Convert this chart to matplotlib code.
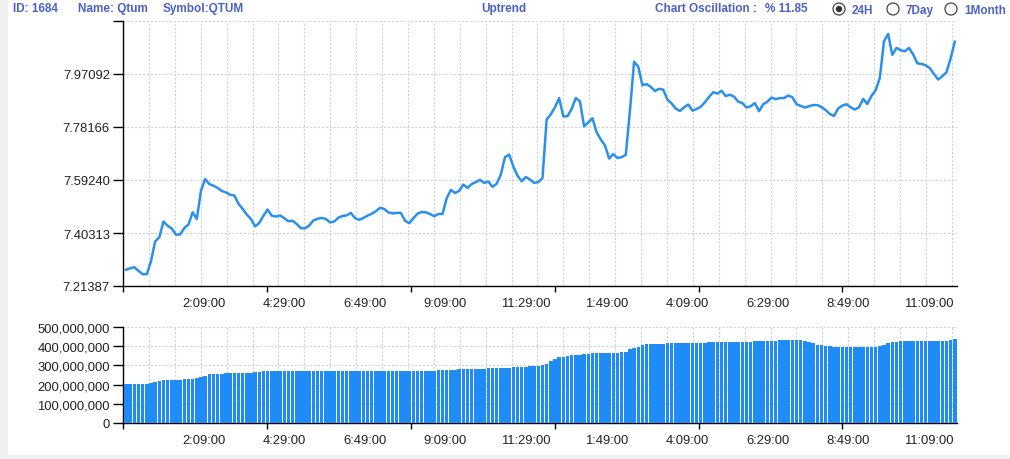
import numpy as np
import matplotlib
matplotlib.use('Agg')
import matplotlib.pyplot as plt
from matplotlib.patches import Circle, Rectangle

### DATA ###
price = [
    7.272, 7.277, 7.281, 7.268, 7.256, 7.256, 7.302, 7.373, 7.388, 7.444,
    7.429, 7.419, 7.397, 7.398, 7.421, 7.433, 7.477, 7.453, 7.554, 7.596,
    7.578, 7.572, 7.564, 7.553, 7.548, 7.540, 7.537, 7.508, 7.489, 7.469,
    7.453, 7.427, 7.439, 7.465, 7.487, 7.465, 7.462, 7.466, 7.456, 7.445,
    7.447, 7.435, 7.420, 7.420, 7.430, 7.448, 7.454, 7.457, 7.453, 7.441,
    7.444, 7.458, 7.464, 7.466, 7.475, 7.456, 7.450, 7.457, 7.465, 7.472,
    7.481, 7.493, 7.489, 7.477, 7.473, 7.475, 7.475, 7.447, 7.438, 7.456,
    7.472, 7.478, 7.477, 7.471, 7.463, 7.471, 7.471, 7.527, 7.557, 7.546,
    7.554, 7.576, 7.564, 7.578, 7.585, 7.593, 7.582, 7.587, 7.568, 7.579,
    7.612, 7.674, 7.683, 7.641, 7.608, 7.588, 7.603, 7.594, 7.582, 7.585,
    7.599, 7.808, 7.827, 7.852, 7.885, 7.820, 7.820, 7.846, 7.885, 7.873,
    7.784, 7.798, 7.813, 7.763, 7.737, 7.716, 7.669, 7.685, 7.671, 7.674,
    7.682, 7.840, 8.015, 7.997, 7.931, 7.935, 7.925, 7.910, 7.918, 7.915,
    7.879, 7.866, 7.847, 7.839, 7.852, 7.862, 7.840, 7.846, 7.854, 7.870,
    7.889, 7.906, 7.901, 7.911, 7.892, 7.897, 7.890, 7.872, 7.867, 7.851,
    7.856, 7.867, 7.838, 7.863, 7.872, 7.887, 7.881, 7.885, 7.885, 7.894,
    7.888, 7.863, 7.857, 7.851, 7.856, 7.860, 7.860, 7.853, 7.842, 7.828,
    7.821, 7.848, 7.858, 7.863, 7.852, 7.844, 7.852, 7.882, 7.864, 7.893,
    7.913, 7.957, 8.088, 8.114, 8.039, 8.064, 8.056, 8.052, 8.064, 8.041,
    8.009, 8.007, 8.002, 7.992, 7.971, 7.951, 7.963, 7.977, 8.026, 8.086,
]

# volume in millions
volume = [
    205, 205, 205, 205, 205, 205, 208, 212, 218, 222,
    224, 224, 225, 226, 229, 229, 230, 232, 238, 247,
    255, 255, 256, 256, 260, 260, 260, 261, 261, 261,
    263, 265, 266, 270, 271, 271, 271, 271, 271, 271,
    271, 271, 271, 271, 271, 271, 271, 271, 271, 271,
    271, 271, 271, 271, 271, 271, 271, 271, 271, 271,
    271, 271, 271, 271, 271, 271, 271, 271, 271, 271,
    271, 271, 271, 272, 273, 274, 275, 276, 277, 278,
    279, 280, 280, 281, 282, 282, 283, 284, 285, 285,
    286, 287, 289, 291, 291, 292, 293, 295, 296, 297,
    300, 305, 325, 335, 342, 346, 350, 353, 355, 356,
    358, 360, 362, 362, 363, 364, 365, 366, 367, 368,
    370, 385, 392, 398, 408, 410, 412, 413, 414, 414,
    415, 415, 416, 416, 416, 416, 417, 417, 418, 419,
    420, 420, 421, 421, 421, 421, 422, 422, 423, 423,
    424, 425, 426, 427, 427, 428, 429, 430, 431, 432,
    432, 432, 431, 428, 423, 415, 408, 404, 401, 399,
    397, 396, 396, 396, 396, 396, 396, 396, 396, 397,
    398, 400, 408, 418, 420, 422, 426, 427, 427, 427,
    427, 427, 427, 427, 427, 427, 427, 428, 430, 437,
]

price_ticks = [7.21387, 7.40313, 7.59240, 7.78166, 7.97092, 8.16018]
price_labels = ['7.21387', '7.40313', '7.59240', '7.78166', '7.97092', '']
volume_ticks = [0, 100, 200, 300, 400, 500]
volume_labels = ['0', '100,000,000', '200,000,000', '300,000,000', '400,000,000', '500,000,000']
time_labels = ['2:09:00', '4:29:00', '6:49:00', '9:09:00', '11:29:00',
               '1:49:00', '4:09:00', '6:29:00', '8:49:00', '11:09:00']

### SETUP ###
W, H = 1010, 460
FONT = 'Liberation Sans'
BLUE = '#2b90ec'
HEAD = '#4a62c4'
GRID = '#d2d2d2'
plt.rcParams['font.family'] = FONT

fig = plt.figure(figsize=(W / 100, H / 100), dpi=100, facecolor='#f0f0f0')
fig.add_artist(Rectangle((8 / W, 1 - 456 / H), (W - 8) / W, 456 / H, zorder=-5,
                         transform=fig.transFigure, fc='white', ec='none'))


def make_axes(top, bottom):
    return fig.add_axes([123 / W, 1 - bottom / H, 834 / W, (bottom - top) / H], facecolor='none')


def style_axes(ax):
    # minutes since the left edge, the chart spans just over a day
    ax.set_xlim(0, 1449)
    for s in ['top', 'right']:
        ax.spines[s].set_visible(False)
    for s in ['left', 'bottom']:
        ax.spines[s].set_linewidth(1.0)
    for m in np.arange(45, 1449, 45):
        ax.axvline(m, color=GRID, lw=0.8, ls=(0, (2, 1.5)), zorder=0)
    ax.set_xticks(np.arange(140, 1449, 140))
    ax.set_xticklabels(time_labels)
    ax.set_xticks(np.arange(0, 1449, 250), minor=True)
    ax.tick_params(axis='x', which='major', length=0, pad=8, labelsize=9.4, labelcolor='#222222')
    ax.tick_params(axis='x', which='minor', length=4, width=1)
    ax.tick_params(axis='y', length=7.5, width=1, pad=2, labelsize=9.4, labelcolor='#222222')
    ax.grid(axis='y', color=GRID, lw=0.8, ls=(0, (2, 1.5)), zorder=0)
    ax.set_axisbelow(True)


times = 5.2 + 7.236 * np.arange(len(price))

### PRICE ###
ax1 = make_axes(22, 287)
style_axes(ax1)
ax1.plot(times, price, color=BLUE, lw=1.8, solid_joinstyle='round', zorder=3)
ax1.set_ylim(price_ticks[0], price_ticks[-1])
ax1.set_yticks(price_ticks)
ax1.set_yticklabels(price_labels)

### VOLUME ###
ax2 = make_axes(328, 424)
style_axes(ax2)
ax2.bar(times, volume, width=6.1, color='#1f8bf6', antialiased=False, linewidth=0, zorder=3)
ax2.set_ylim(0, 500)
ax2.set_yticks(volume_ticks)
ax2.set_yticklabels(volume_labels)


### HEADER ###
def head(x, text, ha='left'):
    fig.text(x / W, 1 - 9 / H, text, color=HEAD, fontsize=8.5, fontweight='bold',
             ha=ha, va='center', family=FONT)


head(13, 'ID: 1684')
head(78, 'Name: Qtum')
head(163, 'Symbol:QTUM')
head(504, 'Uptrend', ha='center')
head(655, 'Chart Oscillation :')
head(765, '% 11.85')

for cx, text, checked in [(839, '24H', True), (893, '7Day', False), (951, '1Month', False)]:
    fig.add_artist(Circle((cx, H - 10), 6, transform=None, fc='white', ec='#444444', lw=0.9))
    if checked:
        fig.add_artist(Circle((cx, H - 10), 3.2, transform=None, fc='#333333', ec='none'))
    fig.text((cx + 13) / W, 1 - 11 / H, text, color=HEAD, fontsize=8.5, fontweight='bold',
             ha='left', va='center', family=FONT)

fig.savefig('out.png', dpi=100, facecolor=fig.get_facecolor())
